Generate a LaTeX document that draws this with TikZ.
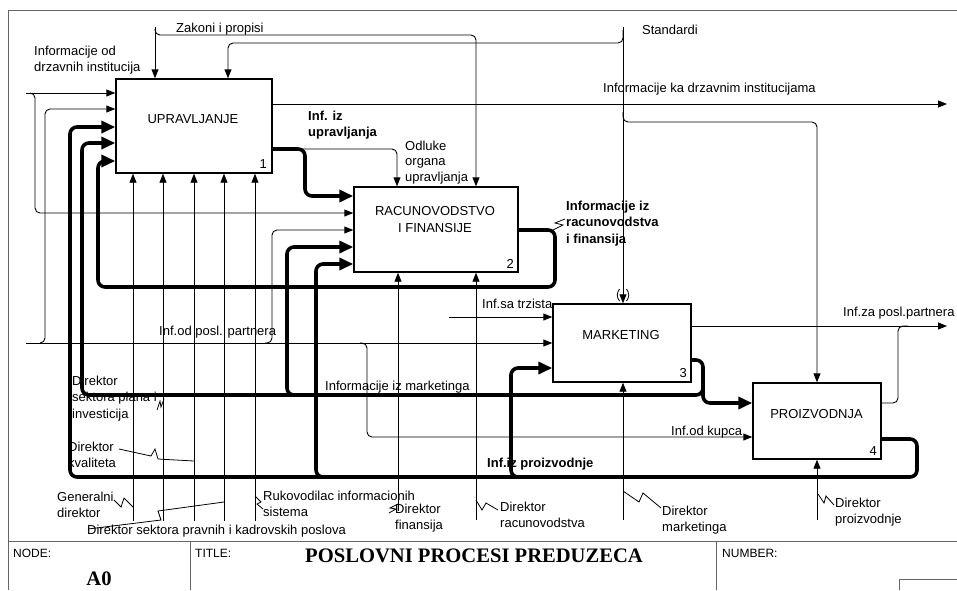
\documentclass[tikz,border=0pt]{standalone}
\usepackage{fontspec}
\setmainfont{Liberation Sans}
\newfontfamily\titleserif{Liberation Serif}
\usetikzlibrary{arrows.meta}

\begin{document}
\begin{tikzpicture}[x=1pt,y=-1pt,
  every node/.style={inner sep=0pt, font=\fontsize{13}{16.5}\selectfont},
  frame/.style={draw=black!60, line width=1pt},
  activity/.style={draw, line width=1.4pt},
  flow/.style={line width=0.9pt, rounded corners=5pt},
  heavy/.style={line width=3.6pt, rounded corners=7pt},
  tip/.style={-{Triangle[length=9pt,width=7pt]}},
  bigtip/.style={-{Triangle[length=14pt,width=12pt]}},
  squig/.style={line width=0.8pt},
  lbl/.style={anchor=north west, align=left, yshift=11.55pt, execute at begin node=\strut},
  ttl/.style={anchor=north, align=center, yshift=11.55pt, execute at begin node=\strut},
  boldlbl/.style={lbl, font=\fontsize{13}{16.5}\selectfont\bfseries},
  num/.style={anchor=base east},
  blockhead/.style={anchor=base west, font=\fontsize{12}{14}\selectfont},
  blocktitle/.style={font=\fontsize{20.6}{24}\titleserif\bfseries}
]
\useasboundingbox (0,0) rectangle (957,590);

% ---- drawing frame and title block ----
\draw[frame] (957,10) -- (8,10) -- (8,590);
\draw[frame] (8,541) -- (957,541);
\draw[frame] (190,541) -- (190,590);
\draw[frame] (716,541) -- (716,590);
\draw[frame] (957,579) -- (899,579) -- (899,590);
\node[blockhead] (nodehead) at (13,557) {NODE:};
\node[blockhead] (titlehead) at (195,557) {TITLE:};
\node[blockhead] (numberhead) at (722,557) {NUMBER:};
\node[blocktitle, anchor=base] (nodeid) at (99,585) {A0};
\node[blocktitle, anchor=base west] (diagtitle) at (305,562) {POSLOVNI PROCESI PREDUZECA};

% ---- activities ----
\node[activity, minimum width=156pt, minimum height=94pt] (b1) at (194,126) {};
\node[activity, minimum width=164pt, minimum height=85pt] (b2) at (436,229.5) {};
\node[activity, minimum width=138pt, minimum height=78pt] (b3) at (622,343) {};
\node[activity, minimum width=128pt, minimum height=76pt] (b4) at (817,421) {};
\node[anchor=base] (t1) at (193,123) {UPRAVLJANJE};
\node[ttl] (t2) at (435,218) {RACUNOVODSTVO\\I FINANSIJE};
\node[anchor=base] (t3) at (621,339) {MARKETING};
\node[anchor=base] (t4) at (816.5,418) {PROIZVODNJA};
\node[num] (n1) at (267,168) {1};
\node[num] (n2) at (514,268) {2};
\node[num] (n3) at (687,377) {3};
\node[num] (n4) at (877,455) {4};

% ---- arrow labels ----
\node[lbl] (lZakoni) at (176,32) {Zakoni i propisi};
\node[lbl] (lStandardi) at (642,34) {Standardi};
\node[lbl] (lInfDrz) at (34,57) {Informacije od\\drzavnih institucija};
\node[lbl] (lInfKa) at (603,92) {Informacije ka drzavnim institucijama};
\node[boldlbl] (lInfUpr) at (308,122) {Inf. iz\\upravljanja};
\node[lbl, font=\fontsize{13}{15.5}\selectfont] (lOdluke) at (405,152) {Odluke\\organa\\upravljanja};
\node[boldlbl] (lInfRac) at (566,212) {Informacije iz\\racunovodstva\\i finansija};
\node[lbl] (lTrziste) at (482,308) {Inf.sa trzista};
\node[lbl] (lPartner) at (159,335) {Inf.od posl. partnera};
\node[lbl] (lZaPartner) at (843,316) {Inf.za posl.partnera};
\node[lbl] (lInfMark) at (325,390) {Informacije iz marketinga};
\node[lbl] (lKupac) at (671,435) {Inf.od kupca};
\node[boldlbl] (lInfProiz) at (487,467) {Inf.iz proizvodnje};
\node[lbl] (lPlan) at (72,387) {Direktor\\sektora plana i\\investicija};
\node[lbl] (lKval) at (68,453) {Direktor\\kvaliteta};
\node[lbl] (lGen) at (57,503) {Generalni\\direktor};
\node[lbl] (lPravni) at (87,534) {Direktor sektora pravnih i kadrovskih poslova};
\node[lbl] (lRuk) at (263,502) {Rukovodilac informacionih\\sistema};
\node[lbl] (lFin) at (395,515) {Direktor\\finansija};
\node[lbl] (lRac) at (500,513) {Direktor\\racunovodstva};
\node[lbl] (lMark) at (662,517) {Direktor\\marketinga};
\node[lbl] (lProiz) at (835,509) {Direktor\\proizvodnje};

% ---- boundary and branch points ----
\coordinate (srcDrz) at (26,93);
\coordinate (srcPartner) at (26,343);
\coordinate (srcTrziste) at (449,317);
\coordinate (srcZakoni) at (155,27);
\coordinate (srcStandardi) at (623,27);
\coordinate (outKa) at (947,104);
\coordinate (outPartner) at (947,326);

% ---- inputs from outside ----
\draw[flow,tip] (srcDrz) -- (b1.west |- srcDrz);
\draw[flow,tip] (30,93) -| (35,213) -- (b2.west |- 0,213);
\draw[flow,tip] (srcPartner) -- (b3.west |- srcPartner);
\draw[flow,tip] (40,343) -| (45,109) -- (b1.west |- 0,109);
\draw[flow,tip] (265,343) -| (272,230) -- (b2.west |- 0,230);
\draw[flow,tip] (360,343) -| (367,437) -- (b4.west |- 0,437);
\draw[flow,tip] (srcTrziste) -- (b3.west |- srcTrziste);

% ---- controls ----
\draw[flow,tip] (srcZakoni) -- (b1.north -| srcZakoni);
\draw[flow,tip] (155,29) |- (476,35) -- (b2.north -| 476,0);
\draw[flow,tip] (srcStandardi) -- (b3.north -| srcStandardi);
\draw[flow,tip] (623,30) |- (228,43) -- (b1.north -| 228,0);
\draw[flow,tip] (623,112) |- (817,122) -- (b4.north -| 817,0);
% tunnel marks
\draw[line width=0.8pt] (619.5,289) .. controls (616.5,293) and (616.5,297) .. (619.5,301);
\draw[line width=0.8pt] (626.5,289) .. controls (629.5,293) and (629.5,297) .. (626.5,301);

% ---- outputs of UPRAVLJANJE ----
\draw[flow,tip] (b1.east |- outKa) -- (outKa);
\draw[heavy,bigtip] (b1.east |- 0,149) -- (305,149) -- (305,196) -- (b2.west |- 0,196);
\draw[flow,tip] (300,149) -| (b2.north -| 397,0);

% ---- output of RACUNOVODSTVO I FINANSIJE ----
\draw[heavy,bigtip] (b2.east |- 0,230) -- (555,230) -- (555,287) -- (98,287) -- (98,161) -- (b1.west |- 0,161);

% ---- outputs of MARKETING ----
\draw[flow,tip] (b3.east |- outPartner) -- (outPartner);
\draw[heavy,bigtip] (b3.east |- 0,360) -- (703,360) -- (703,395) -- (82,395) -- (82,143) -- (b1.west |- 0,143);
\draw[heavy,bigtip] (703,380) -- (703,403) -- (b4.west |- 0,403);
\draw[heavy,bigtip] (300,395) -| (287,247) -- (b2.west |- 0,247);

% ---- outputs of PROIZVODNJA ----
\draw[flow] (b4.east |- 0,403) -- (898,403) -- (898,326) -- (908,326);
\draw[heavy,bigtip] (b4.east |- 0,439) -- (917,439) -- (917,477) -- (70,477) -- (70,127) -- (b1.west |- 0,127);
\draw[heavy,bigtip] (525,477) -| (511,368) -- (b3.west |- 0,368);
\draw[heavy,bigtip] (330,477) -| (316,264) -- (b2.west |- 0,264);

% ---- mechanisms ----
\foreach \mx in {133,163,194,224,255}
  \draw[flow,tip] (\mx,521) -- (b1.south -| \mx,0);
\draw[flow,tip] (398,511) -- (b2.south -| 398,0);
\draw[flow,tip] (476,520) -- (b2.south -| 476,0);
\draw[flow,tip] (623,520) -- (b3.south -| 623,0);
\draw[flow,tip] (817,520) -- (b4.south -| 817,0);

% ---- squiggles tying labels to arrows ----
\draw[squig] (114,500) -- (121,507) -- (124,498) -- (133,507);
\draw[squig] (157,410) -- (160,401) -- (161,407) -- (164,399);
\draw[squig] (119,449) -- (151,456) -- (155,449) -- (158,459) -- (194,461);
\draw[squig] (224,502) -- (158,511) -- (161,520) -- (88,529);
\draw[squig] (255,496) -- (261,502) -- (257,504) -- (263,509);
\draw[squig] (398,504) -- (390,508) -- (396,509) -- (389,513);
\draw[squig] (476,500) -- (482,510) -- (486,503) -- (498,510);
\draw[squig] (623,491) -- (639,502) -- (643,493) -- (661,508);
\draw[squig] (818,494) -- (824,503) -- (826,496) -- (834,505);
\draw[squig] (565,219) -- (555,223) -- (563,225) -- (553,230);
\end{tikzpicture}
\end{document}
